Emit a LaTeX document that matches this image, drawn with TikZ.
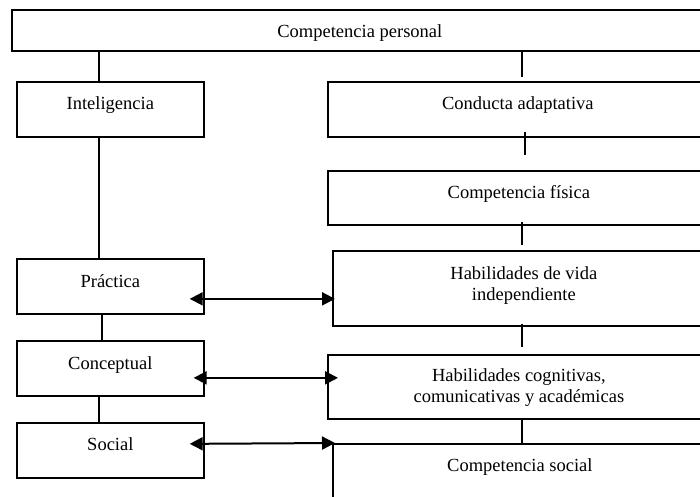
\documentclass[tikz,border=0pt]{standalone}
\usepackage{fontspec}
\setmainfont{Liberation Serif}
\usetikzlibrary{arrows.meta}
\begin{document}
\begin{tikzpicture}[x=1pt,y=-1pt,
  box/.style={draw, line width=1.7pt, inner xsep=0pt, inner ysep=0pt,
    anchor=north west, align=center, font=\fontsize{18.5}{21}\selectfont},
  lconn/.style={line width=1.3pt},
  rconn/.style={line width=2pt},
  biarrow/.style={line width=2pt,
    {Triangle[length=13pt,width=13pt]}-{Triangle[length=13pt,width=13pt]}}
]
\useasboundingbox (0,0) rectangle (700,496);
\fill[white] (0,0) rectangle (700,496);
\clip (0,0) rectangle (700,496);

% top level
\node[box, minimum width=696pt, text height=27.5pt, text depth=13.5pt] (cp) at (11,9) {Competencia personal};

% left column
\node[box, minimum width=187pt, text height=28pt, text depth=27pt] (intel) at (16,81) {Inteligencia};
\node[box, minimum width=187pt, text height=29pt, text depth=26pt] (prac) at (16,258) {Práctica};
\node[box, minimum width=187pt, text height=29pt, text depth=26pt] (conc) at (16,340) {Conceptual};
\node[box, minimum width=187pt, text height=28pt, text depth=27pt] (soc) at (16,422) {Social};

% right column
\node[box, minimum width=380pt, text height=28pt, text depth=27pt] (cond) at (327,81) {Conducta adaptativa};
\node[box, minimum width=382pt, text height=28pt, text depth=26pt] (cfis) at (327,170) {Competencia física};
\node[box, minimum width=382pt, text height=50pt, text depth=25pt] (hvida) at (332,250) {Habilidades de vida\\independiente};
\node[box, minimum width=382pt, text height=48pt, text depth=16pt] (hcog) at (327,354) {Habilidades cognitivas,\\comunicativas y académicas};
\node[box, minimum width=374pt, text height=28pt, text depth=39pt] (csoc) at (332,443) {Competencia social};

% left connectors
\draw[lconn] ([shift={(-11.5,0)}]intel.north) -- ([shift={(-11.5,0)}]intel.north |- cp.south);
\draw[lconn] ([shift={(-11.5,0)}]intel.south) -- ([shift={(-11.5,0)}]prac.north);
\draw[lconn] ([shift={(-8.5,0)}]prac.south) -- ([shift={(-8.5,0)}]conc.north);
\draw[lconn] ([shift={(-11.5,0)}]conc.south) -- ([shift={(-11.5,0)}]soc.north);

% right connectors
\draw[rconn] ([shift={(4,0)}]cond.north |- cp.south) -- ([shift={(4,-4)}]cond.north);
\draw[rconn] ([shift={(7,-6)}]cond.south) -- ([shift={(6,-15)}]cfis.north);
\draw[rconn] ([shift={(3,-4)}]cfis.south) -- ([shift={(-2,-5)}]hvida.north);
\draw[rconn] ([shift={(-2,-3)}]hvida.south) -- ([shift={(3,-7)}]hcog.north);
\draw[rconn] ([shift={(3,0)}]hcog.south) -- ([shift={(2,0)}]csoc.north);

% two-way links
\draw[biarrow] ([shift={(-15,12.5)}]prac.east) -- ([shift={(3,10.5)}]hvida.west);
\draw[biarrow] ([shift={(-11,9.5)}]conc.east) -- ([shift={(11,-9)}]hcog.west);
\draw[biarrow] ([shift={(-15,-6.5)}]soc.east) -- ([shift={(3,0)}]csoc.north west);
\end{tikzpicture}
\end{document}
